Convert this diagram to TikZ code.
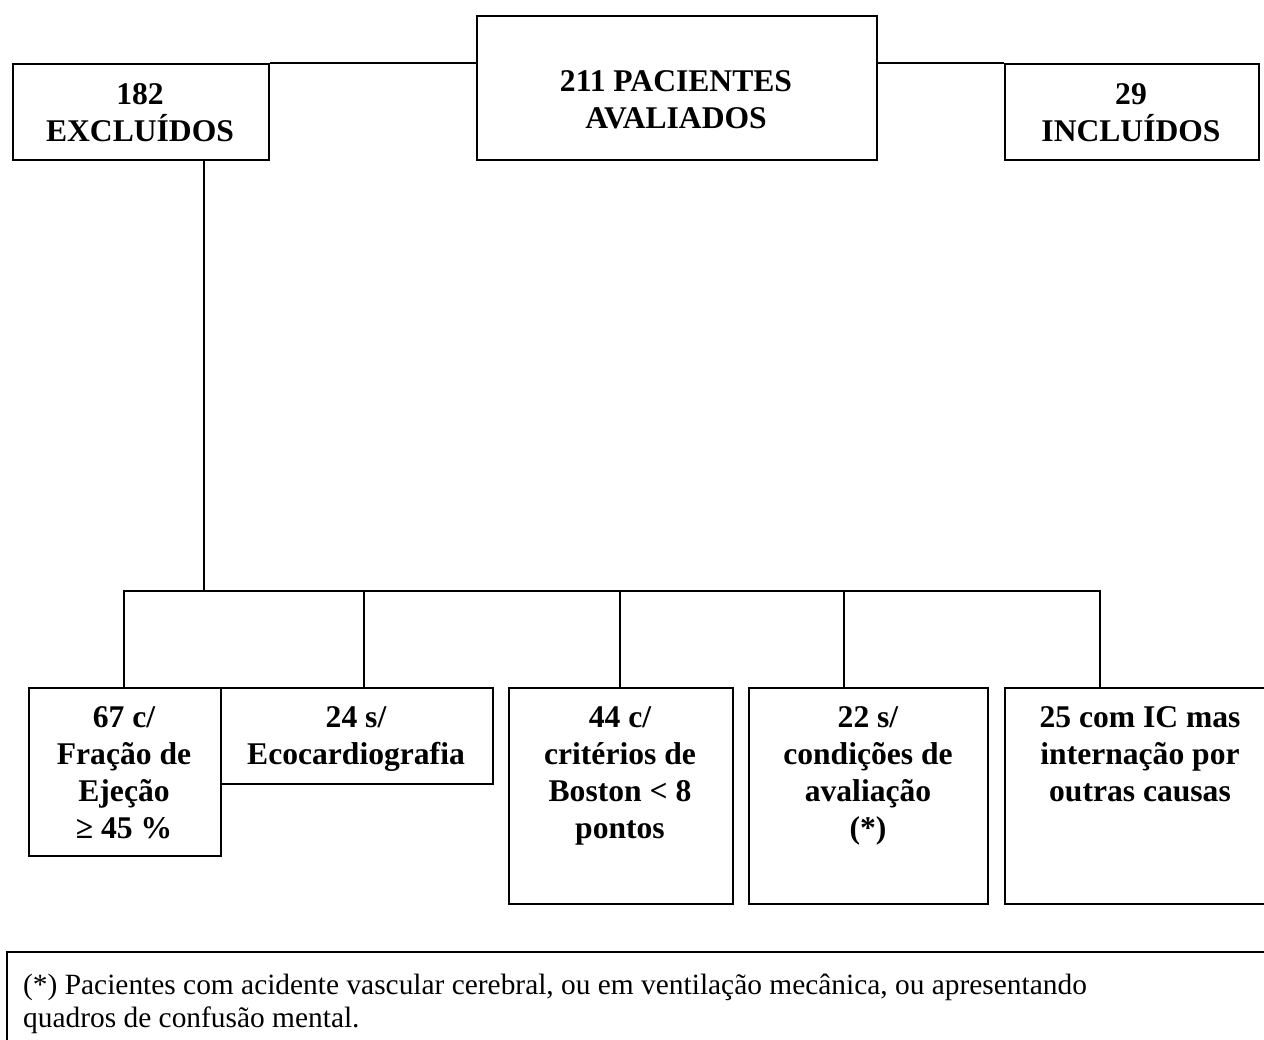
\documentclass[tikz,border=0pt]{standalone}
\usepackage{fontspec}
\setmainfont{Liberation Serif}
\begin{document}
\begin{tikzpicture}[x=1pt,y=-1pt,
  box/.style={draw,line width=2pt,inner sep=0pt,anchor=north west},
  btxt/.style={font=\bfseries\fontsize{31.6}{37}\selectfont,align=center,inner sep=0pt,anchor=base},
  conn/.style={line width=2pt}]
\useasboundingbox (0,0) rectangle (1264,1040);
\clip (0,0) rectangle (1264,1040);
% top row
\node[box,minimum width=256,minimum height=96] (exc) at (12,63) {};
\node[box,minimum width=400,minimum height=144] (cen) at (476,15) {};
\node[box,minimum width=254,minimum height=96] (inc) at (1004,63) {};
\node[btxt] (excT) at (140,142) {182\\EXCLUÍDOS};
\node[btxt] (cenT) at (676,129) {211 PACIENTES\\AVALIADOS};
\node[btxt] (incT) at (1131,142) {29\\INCLUÍDOS};
\draw[conn] (exc.north east) -- (exc.north east -| cen.west);
\draw[conn] (cen.east |- inc.north) -- (inc.north west);
% bottom row
\node[box,minimum width=192,minimum height=168] (b1) at (28,687) {};
\node[box,minimum width=272,minimum height=96] (b2) at (220,687) {};
\node[box,minimum width=224,minimum height=216] (b3) at (508,687) {};
\node[box,minimum width=239,minimum height=216] (b4) at (748,687) {};
\node[box,minimum width=272,minimum height=216] (b5) at (1004,687) {};
\node[btxt] (b1T) at (124,838) {67 c/\\Fração de\\Ejeção\\≥ 45 \%};
\node[btxt] (b2T) at (356,764) {24 s/\\Ecocardiografia};
\node[btxt] (b3T) at (620,838) {44 c/\\critérios de\\Boston < 8\\pontos};
\node[btxt] (b4T) at (868,838) {22 s/\\condições de\\avaliação\\(*)};
\node[btxt] (b5T) at (1140,801) {25 com IC mas\\internação por\\outras causas};
% connectors
\coordinate (j) at (204,591);
\coordinate (d1) at (124,591);
\coordinate (d2) at (364,591);
\coordinate (d3) at (620,591);
\coordinate (d4) at (844,591);
\coordinate (d5) at (1100,591);
\draw[conn] (j |- exc.south) -- (j);
\draw[conn] (d1 |- b1.north) -- (d1) -- (d5) -- (d5 |- b5.north);
\draw[conn] (d2) -- (d2 |- b2.north);
\draw[conn] (d3) -- (d3 |- b3.north);
\draw[conn] (d4) -- (d4 |- b4.north);
% footnote
\node[box,minimum width=1290,minimum height=120] (fn) at (6,951) {};
\node[font=\fontsize{29.4}{33}\selectfont,align=left,inner sep=0pt,anchor=base west] (fnT) at (23,1027)
  {(*) Pacientes com acidente vascular cerebral, ou em ventilação mecânica, ou apresentando\\quadros de confusão mental.};
\end{tikzpicture}
\end{document}
